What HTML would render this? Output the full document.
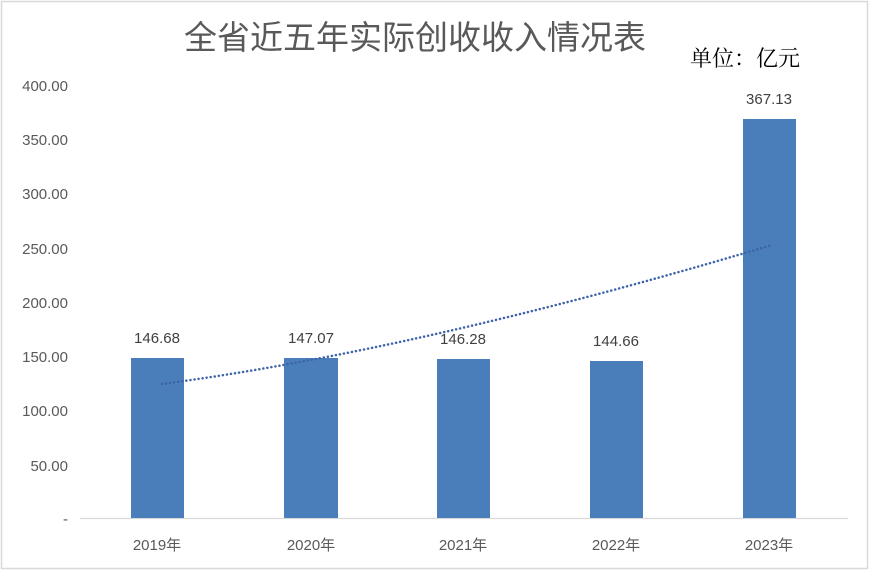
<!DOCTYPE html>
<html><head><meta charset="utf-8"><style>
html,body{margin:0;padding:0;background:#fff;}
svg{display:block;}
</style></head><body>
<svg width="870" height="571" xmlns="http://www.w3.org/2000/svg">
<rect x="1.5" y="1.5" width="866" height="567" fill="#fff" stroke="#d9d9d9" stroke-width="1.5"/>
<text x="415" y="49" text-anchor="middle" font-family="'Liberation Sans','Noto Sans CJK SC',sans-serif" font-size="33" fill="#595959">全省近五年实际创收收入情况表</text>
<text x="745" y="66" text-anchor="middle" font-family="'Liberation Serif','Noto Serif CJK SC',serif" font-size="22" fill="#000">单位：亿元</text>
<g font-family="'Liberation Sans','Noto Sans CJK SC',sans-serif" font-size="15" fill="#595959" text-anchor="end">
<text x="68" y="91">400.00</text>
<text x="68" y="145">350.00</text>
<text x="68" y="199">300.00</text>
<text x="68" y="254">250.00</text>
<text x="68" y="308">200.00</text>
<text x="68" y="362">150.00</text>
<text x="68" y="416">100.00</text>
<text x="68" y="471">50.00</text>
<text x="68" y="524">-</text>
</g>
<line x1="80" y1="518.5" x2="848" y2="518.5" stroke="#d9d9d9" stroke-width="1.2"/>
<g fill="#4a7ebb">
<rect x="131" y="358" width="53" height="160"/>
<rect x="284" y="358" width="54" height="160"/>
<rect x="437" y="359" width="53" height="159"/>
<rect x="590" y="361" width="53" height="157"/>
<rect x="743" y="119" width="53" height="399"/>
</g>
<path d="M162 384 Q420 350 772 245" fill="none" stroke="#3d63a8" stroke-width="2.5" stroke-dasharray="0.1 4" stroke-linecap="round"/>
<g font-family="'Liberation Sans','Noto Sans CJK SC',sans-serif" font-size="15" fill="#404040" text-anchor="middle">
<text x="157" y="343">146.68</text>
<text x="311" y="343">147.07</text>
<text x="463" y="344">146.28</text>
<text x="616" y="346">144.66</text>
<text x="769" y="104">367.13</text>
</g>
<g font-family="'Liberation Sans','Noto Sans CJK SC',sans-serif" font-size="15" fill="#595959" text-anchor="middle">
<text x="157" y="550">2019年</text>
<text x="311" y="550">2020年</text>
<text x="463" y="550">2021年</text>
<text x="616" y="550">2022年</text>
<text x="769" y="550">2023年</text>
</g>
</svg>
</body></html>
